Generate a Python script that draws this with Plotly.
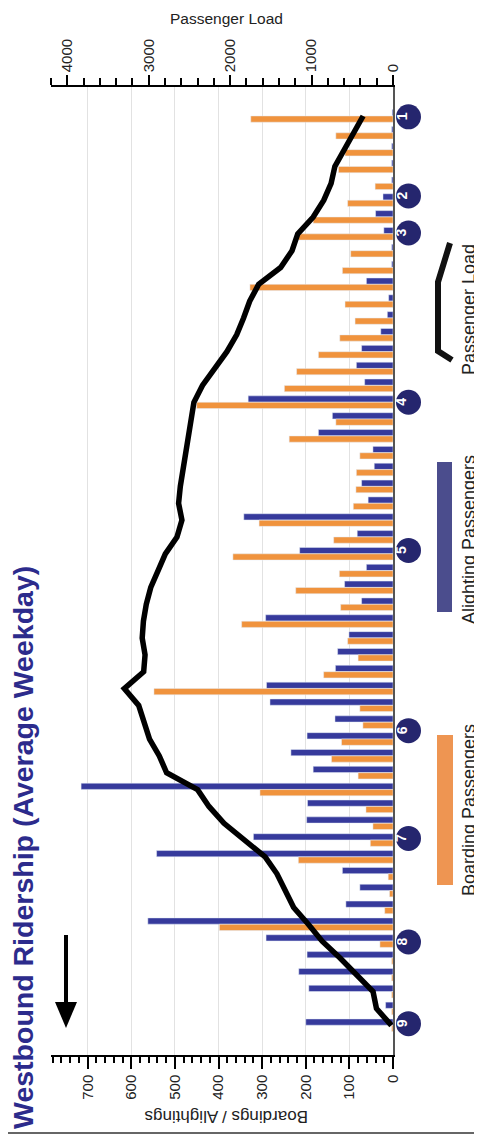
import plotly.graph_objects as go

# rows are the bus stops along the route, top (stop 1) to bottom (stop 9)
boardings = [326, 131, 110, 125, 41, 104, 183, 217, 97, 116,
             328, 110, 87, 122, 171, 221, 249, 450, 131, 238,
             76, 84, 85, 91, 307, 136, 367, 123, 223, 120,
             347, 104, 80, 159, 548, 76, 69, 118, 141, 80,
             305, 62, 46, 52, 217, 11, 8, 19, 398, 30,
             3, 3, 3, 3, 3]
alightings = [2, 3, 3, 3, 3, 23, 40, 21, 3, 3,
              61, 10, 13, 28, 72, 84, 65, 332, 139, 171,
              46, 43, 72, 57, 342, 82, 214, 61, 111, 72,
              292, 101, 127, 132, 290, 282, 133, 197, 234, 183,
              715, 196, 198, 320, 542, 116, 76, 108, 562, 291,
              197, 216, 193, 17, 200]
load = [367, 481, 600, 714, 760, 850, 980, 1170, 1240, 1380,
        1650, 1760, 1835, 1920, 2040, 2180, 2340, 2445, 2480, 2510,
        2550, 2590, 2612, 2633, 2592, 2653, 2796, 2885, 2975, 3030,
        3065, 3080, 3045, 3062, 3300, 3123, 3050, 2990, 2870, 2780,
        2400, 2260, 2075, 1830, 1570, 1425, 1320, 1220, 1040, 870,
        650, 440, 245, 203, 20]
rows = list(range(len(boardings)))

stop_labels = ['1', '2', '3', '4', '5', '6', '7', '8', '9']
stop_rows = [0.05, 4.75, 6.95, 17.0, 25.8, 36.5, 42.9, 49.05, 53.9]

ORANGE = '#f0933d'
BLUE = '#363a9c'
NAVY = '#25266e'
FONT = 'Liberation Sans'

# page body has an 8px margin, so the figure is 8px smaller than the window
W, H, PAGE = 474, 1127, 8
# plot area in page pixels (the figure is drawn "on its side")
X0, X1, Y0, Y1 = 51, 393, 87, 1055


def px(x):
    return (x - X0) / (X1 - X0)


def py(y):
    return 1 - (y - Y0) / (Y1 - Y0)


fig = go.Figure()
fig.add_trace(go.Bar(y=rows, x=alightings, orientation='h', marker_color=BLUE,
                     width=0.37, offset=-0.38, name='Alighting Passengers'))
fig.add_trace(go.Bar(y=rows, x=boardings, orientation='h', marker_color=ORANGE,
                     width=0.37, offset=0.0, name='Boarding Passengers'))
fig.add_trace(go.Scatter(y=rows, x=load, xaxis='x2', mode='lines',
                         line=dict(color='black', width=5.5), name='Passenger Load'))

fig.update_layout(
    width=W, height=H,
    margin=dict(l=X0 - PAGE, r=W + PAGE - X1, t=Y0 - PAGE, b=H + PAGE - Y1),
    plot_bgcolor='white', paper_bgcolor='white',
    showlegend=False, barmode='overlay',
    font=dict(family=FONT, color='#222', size=15),
    xaxis=dict(range=[784, 0], tickvals=[0, 100, 200, 300, 400, 500, 600, 700],
               tickangle=-90, ticks='outside', ticklen=12, tickwidth=1.5, tickcolor='black',
               showline=True, linecolor='black', linewidth=1.5,
               showgrid=True, gridcolor='#e2e2e2', zeroline=False,
               minor=dict(dtick=20, ticks='outside', ticklen=6, tickcolor='black', showgrid=False)),
    xaxis2=dict(range=[4200, 0], overlaying='x', side='top',
                tickvals=[0, 1000, 2000, 3000, 4000], tickangle=-90,
                ticks='outside', ticklen=10, tickwidth=1.5, tickcolor='black',
                showline=True, linecolor='black', linewidth=1.5,
                showgrid=False, zeroline=False,
                minor=dict(dtick=200, ticks='outside', ticklen=7, tickcolor='black')),
    yaxis=dict(range=[55.76, -1.72], showticklabels=False, showgrid=False,
               zeroline=False, side='right', showline=True, linecolor='#555', linewidth=2),
)

shapes = []
ann = []
for lab, r in zip(stop_labels, stop_rows):
    shapes.append(dict(type='circle', xref='paper', yref='y', xsizemode='pixel', ysizemode='pixel',
                       xanchor=px(408.5), yanchor=r, x0=-12.5, x1=12.5, y0=-12.5, y1=12.5,
                       fillcolor=NAVY, line_width=0))
    ann.append(dict(x=px(408.5), y=r, xref='paper', yref='y', text='<b>' + lab + '</b>',
                    textangle=-90, xshift=3, showarrow=False,
                    font=dict(color='white', size=14, family=FONT)))
texts = [
    dict(x=px(226), y=py(PAGE), yanchor='top', text='Passenger Load', font=dict(size=15.5)),
    dict(x=px(226), y=py(1117), text='Boardings / Alightings', textangle=180, font=dict(size=17)),
    dict(x=px(23), y=py(848), text='<b>Westbound Ridership (Average Weekday)</b>',
         textangle=-90, font=dict(size=28.5, color='#2c2b8c')),
    dict(x=px(469), y=py(310), text='Passenger Load', textangle=-90, font=dict(size=18)),
    dict(x=px(469), y=py(540), text='Alighting Passengers', textangle=-90, font=dict(size=18)),
    dict(x=px(469), y=py(810), text='Boarding Passengers', textangle=-90, font=dict(size=18)),
]
for a in texts:
    a.update(xref='paper', yref='paper', showarrow=False, xanchor='center')
    a.setdefault('yanchor', 'middle')
fig.update_layout(annotations=ann + texts)

pts = [(450, 243), (438, 282), (438, 351), (452, 360)]
bracket = 'M ' + ' L '.join(f'{px(x)},{py(y)}' for x, y in pts)
arrow_head = f'M {px(55)},{py(1002)} L {px(77)},{py(1002)} L {px(66)},{py(1028)} Z'
shapes += [
    dict(type='path', path=bracket, xref='paper', yref='paper', line=dict(color='#111', width=6)),
    dict(type='rect', x0=px(437), x1=px(452), y0=py(462), y1=py(612), xref='paper', yref='paper',
         fillcolor='#4b4d8d', line_width=0),
    dict(type='rect', x0=px(437), x1=px(453), y0=py(735), y1=py(885), xref='paper', yref='paper',
         fillcolor='#ee9552', line_width=0),
    dict(type='line', x0=px(66), x1=px(66), y0=py(935), y1=py(1004), xref='paper', yref='paper',
         line=dict(color='black', width=4)),
    dict(type='path', path=arrow_head, xref='paper', yref='paper', fillcolor='black', line_width=0),
    dict(type='line', x0=px(8), x1=px(482), y0=py(1133), y1=py(1133), xref='paper', yref='paper',
         line=dict(color='#666', width=2)),
]
fig.update_layout(shapes=shapes)

fig.write_html('out.html')
